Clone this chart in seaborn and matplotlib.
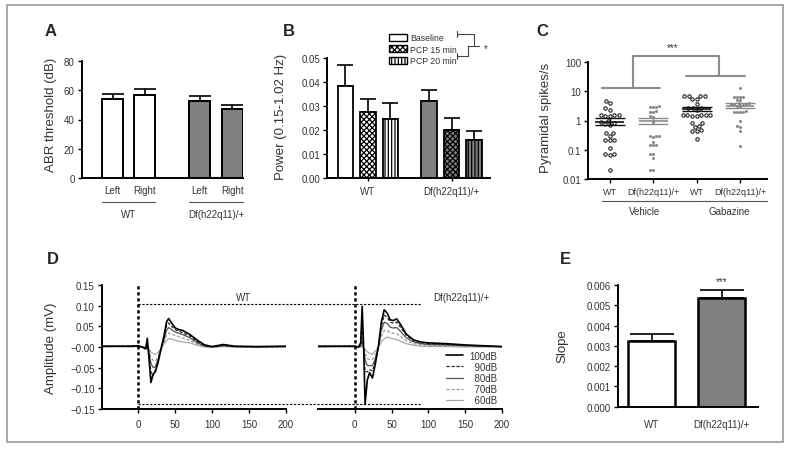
import numpy as np
import pandas as pd
import matplotlib
matplotlib.use("Agg")
import matplotlib.pyplot as plt
import seaborn as sns
from matplotlib.patches import Patch, Rectangle
from matplotlib.lines import Line2D
from matplotlib.ticker import FixedLocator, FixedFormatter, NullLocator

# ---- A: ABR threshold (mean, sem)
abr_groups = ["WT", "Df(h22q11)/+"]
abr_sides = ["Left", "Right"]
abr_wt = [54.0, 57.0]
abr_wt_sem = [3.5, 4.0]
abr_df = [52.5, 47.0]
abr_df_sem = [3.5, 3.0]

# ---- B: power 0.15-1.02 Hz
pcp_groups = ["WT", "Df(h22q11)/+"]
pcp_conds = ["Baseline", "PCP 15 min", "PCP 20 min"]
pcp_wt = [0.0385, 0.0275, 0.0245]
pcp_wt_sem = [0.0085, 0.0055, 0.0068]
pcp_df = [0.032, 0.020, 0.016]
pcp_df_sem = [0.0048, 0.0052, 0.0037]

# ---- C: pyramidal spikes/s
spk_groups = ["WT veh", "Df veh", "WT gab", "Df gab"]
spk_labels = ["WT", "Df(h22q11)/+", "WT", "Df(h22q11)/+"]
spk_wt_veh = [4.7, 3.9, 2.6, 2.3, 1.6, 1.55, 1.45, 1.4, 1.5, 1.0, 0.9, 0.8, 0.75,
              0.72, 0.38, 0.36, 0.30, 0.22, 0.21, 0.22, 0.115, 0.07, 0.065, 0.07, 0.021]
spk_df_veh = [3.1, 3.0, 2.9, 2.8, 2.1, 2.0, 2.0, 1.4, 1.3, 0.87, 0.30, 0.29, 0.28,
              0.30, 0.18, 0.15, 0.14, 0.15, 0.071, 0.07, 0.051, 0.021, 0.021]
spk_wt_gab = [7.0, 6.8, 7.1, 6.9, 5.4, 5.3, 3.7, 2.6, 2.6, 2.7, 2.2, 1.6, 1.55,
              1.6, 1.58, 1.5, 1.38, 1.4, 0.8, 0.82, 0.63, 0.62, 0.45, 0.45, 0.46, 0.23]
spk_df_gab = [12.9, 6.5, 6.4, 6.6, 6.5, 5.0, 4.9, 3.9, 3.8, 4.0, 3.7, 3.6, 3.2,
              3.1, 3.3, 2.0, 2.0, 2.1, 1.9, 2.0, 1.0, 0.66, 0.59, 0.45, 0.13]
spk_mean = [0.92, 0.97, 2.45, 3.2]
spk_lo = [0.71, 0.75, 2.05, 2.7]
spk_hi = [1.2, 1.2, 3.0, 3.9]

# ---- D: ABR traces (ms, mV)
abr_levels = ["100dB", "90dB", "80dB", "70dB", "60dB"]
t_wt = [-50, -10, 0, 5, 10, 12, 14, 17, 20, 23, 27, 31, 35, 38, 41, 45, 50, 55, 60,
        65, 70, 80, 90, 100, 115, 130, 160, 200]
wt_100 = [.002, .002, .003, .000, -.005, .021, -.020, -.086, -.065, -.060, -.035, -.002, .030, .060,
          .069, .058, .046, .042, .040, .035, .030, .016, .005, .001, .006, .002, .001, .002]
wt_90 = [.001, .002, .002, .000, -.003, .012, -.015, -.060, -.070, -.055, -.030, -.002, .025, .050,
         .058, .050, .042, .038, .034, .030, .026, .013, .003, .001, .004, .001, .001, .001]
wt_80 = [.002, .001, .002, .000, -.002, .006, -.010, -.040, -.050, -.048, -.028, -.002, .020, .040,
         .047, .042, .036, .033, .030, .026, .022, .010, .002, .000, .003, .001, .000, .001]
wt_70 = [.001, .001, .001, .000, -.001, .003, -.006, -.025, -.032, -.034, -.022, -.002, .014, .028,
         .034, .031, .028, .025, .022, .019, .016, .007, .001, .000, .002, .000, .000, .001]
wt_60 = [.000, .001, .001, .000, .000, .001, -.003, -.012, -.016, -.018, -.013, -.002, .008, .016,
         .020, .019, .016, .014, .012, .011, .010, .004, .000, -.001, .001, .000, .000, .000]
t_df = [-50, -10, 0, 5, 8, 10, 12, 14, 17, 20, 24, 28, 32, 36, 40, 44, 48, 52, 57, 62,
        70, 80, 90, 100, 125, 150, 175, 200]
df_100 = [.002, .002, .002, .000, .010, .098, .000, -.138, -.080, -.062, -.075, -.040, .000, .060,
          .090, .082, .066, .064, .068, .055, .031, .017, .012, .010, .008, .005, .003, .001]
df_90 = [.001, .002, .002, .000, .004, .040, -.005, -.060, -.060, -.055, -.058, -.035, .000, .050,
         .077, .072, .060, .058, .060, .048, .028, .015, .010, .008, .006, .004, .002, .001]
df_80 = [.001, .001, .001, .000, .002, .015, -.005, -.030, -.045, -.045, -.045, -.028, .000, .040,
         .060, .057, .048, .046, .047, .038, .022, .012, .008, .006, .005, .003, .002, .001]
df_70 = [.001, .001, .001, .000, .001, .006, -.003, -.015, -.028, -.030, -.030, -.020, .000, .025,
         .040, .040, .035, .033, .032, .026, .015, .008, .005, .004, .003, .002, .001, .000]
df_60 = [.000, .001, .000, .000, .000, .002, -.001, -.006, -.012, -.015, -.018, -.010, .000, .012,
         .020, .024, .022, .020, .018, .014, .008, .004, .002, .001, .001, .000, .000, .000]

# ---- E: slope
slope_groups = ["WT", "Df(h22q11)/+"]
slope_mean = [0.00326, 0.00534]
slope_sem = [0.00030, 0.00041]

sns.set_style("ticks")
plt.rcParams["font.family"] = ["Liberation Sans", "DejaVu Sans"]
plt.rcParams["hatch.linewidth"] = 0.9
TXT = "#333333"
GREY = "#808080"

W, H = 791, 452
fig = plt.figure(figsize=(W / 100, H / 100), dpi=100)


def fx(px):
    return px / W


def fy(py):
    return 1 - py / H


def add_ax(l, t, r, b):
    return fig.add_axes([l / W, 1 - b / H, (r - l) / W, (b - t) / H])


def style_ax(ax, lw=1.4):
    sns.despine(ax=ax)
    for s in ["left", "bottom"]:
        ax.spines[s].set_linewidth(lw)
        ax.spines[s].set_color("black")
    ax.tick_params(direction="out", length=3, width=1, color="black",
                   labelsize=7, labelcolor=TXT, pad=2)


def up_err(ax, patches, errs, capsize):
    for p, e in zip(patches, errs):
        x = p.get_x() + p.get_width() / 2
        ax.errorbar([x], [p.get_height()], yerr=[[0], [e]], fmt="none", ecolor="black",
                    elinewidth=1.2, capsize=capsize, capthick=1.2, zorder=1)


# ================= A
axA = add_ax(81.7, 62, 243, 179)
dfA = pd.DataFrame({"group": np.repeat(abr_groups, 2), "side": abr_sides * 2,
                    "thr": abr_wt + abr_df})
sns.barplot(data=dfA, x="group", y="thr", hue="side", order=abr_groups, hue_order=abr_sides,
            width=0.742, gap=0.353, errorbar=None, edgecolor="black", linewidth=1.4,
            legend=False, ax=axA, zorder=2)
semA = {("WT", "Left"): abr_wt_sem[0], ("WT", "Right"): abr_wt_sem[1],
        ("Df(h22q11)/+", "Left"): abr_df_sem[0], ("Df(h22q11)/+", "Right"): abr_df_sem[1]}
barsA, errsA = [], []
for p in axA.patches:
    c = p.get_x() + p.get_width() / 2
    g = abr_groups[int(round(c))]
    s = "Left" if c < round(c) else "Right"
    p.set_facecolor("white" if g == "WT" else GREY)
    barsA.append(p)
    errsA.append(semA[(g, s)])
up_err(axA, barsA, errsA, 8)
axA.set_ylim(0, 80)
axA.set_yticks([0, 20, 40, 60, 80])
axA.set_xlim(-0.54, 1.31)
centers = sorted(p.get_x() + p.get_width() / 2 for p in barsA)
axA.set_xticks(centers, ["Left", "Right", "Left", "Right"])
style_ax(axA)
axA.tick_params(axis="x", length=0, pad=5)
axA.set_xlabel("")
axA.set_ylabel("ABR threshold (dB)", fontsize=9.5, color=TXT)
axA.yaxis.set_label_coords(-0.153, 0.547)
for gi, g in enumerate(abr_groups):
    ps = sorted([p for p in barsA if int(round(p.get_x() + p.get_width() / 2)) == gi],
                key=lambda p: p.get_x())
    x0, x1 = ps[0].get_x(), ps[-1].get_x() + ps[-1].get_width()
    axA.plot([x0, x1], [-0.205, -0.205], color="#555555", lw=0.8,
             transform=axA.get_xaxis_transform(), clip_on=False)
    axA.text(gi, -0.31, g, ha="center", va="center", fontsize=7, color=TXT,
             transform=axA.get_xaxis_transform())

# ================= B
axB = add_ax(327, 59, 490, 179)
dfB = pd.DataFrame({"group": np.repeat(pcp_groups, 3), "cond": pcp_conds * 2,
                    "power": pcp_wt + pcp_df})
sns.barplot(data=dfB, x="group", y="power", hue="cond", order=pcp_groups, hue_order=pcp_conds,
            width=0.808, gap=0.31, errorbar=None, edgecolor="black", linewidth=1.3,
            legend=False, ax=axB, zorder=2)
hatches = ["", "xxxxxx", "|||||"]
semB = {}
for i, c in enumerate(pcp_conds):
    semB[("WT", c)] = pcp_wt_sem[i]
    semB[("Df(h22q11)/+", c)] = pcp_df_sem[i]
barsB, errsB = [], []
for p in axB.patches:
    c = p.get_x() + p.get_width() / 2
    gi = int(round(c))
    hi = int(round((c - gi) / (0.808 / 3))) + 1
    p.set_facecolor("white" if gi == 0 else GREY)
    p.set_hatch(hatches[hi])
    barsB.append(p)
    errsB.append(semB[(pcp_groups[gi], pcp_conds[hi])])
up_err(axB, barsB, errsB, 6)
axB.set_ylim(0, 0.05)
axB.set_yticks([0, 0.01, 0.02, 0.03, 0.04, 0.05])
axB.yaxis.set_major_formatter(FixedFormatter(["0.00", "0.01", "0.02", "0.03", "0.04", "0.05"]))
axB.set_xlim(-0.49, 1.46)
style_ax(axB)
axB.tick_params(axis="x", length=2, pad=4)
axB.set_xlabel("")
axB.set_ylabel("Power (0.15-1.02 Hz)", fontsize=9.5, color=TXT)
axB.yaxis.set_label_coords(-0.245, 0.517)
legB = [Patch(facecolor="white", edgecolor="black", hatch=h, lw=1) for h in hatches]
fig.legend(legB, pcp_conds, loc="upper left", bbox_to_anchor=(fx(385), fy(30)),
           frameon=False, fontsize=6.3, handlelength=2.05, handleheight=0.9,
           labelspacing=0.28, borderpad=0, handletextpad=0.35, labelcolor=TXT)
for pts in ([(457, 35), (474, 35), (474, 46)], [(457, 57), (468, 57), (468, 47)],
            [(468, 47), (479, 47)], [(457, 32), (457, 38)], [(457, 54), (457, 60)]):
    fig.add_artist(Line2D([fx(p[0]) for p in pts], [fy(p[1]) for p in pts],
                          color="#444444", lw=0.8))
fig.text(fx(486), fy(49), "*", fontsize=7, color=TXT, ha="center", va="center")

# ================= C
axC = add_ax(588, 63, 767, 180)
dfC = pd.DataFrame({"group": ["WT veh"] * len(spk_wt_veh) + ["Df veh"] * len(spk_df_veh)
                    + ["WT gab"] * len(spk_wt_gab) + ["Df gab"] * len(spk_df_gab),
                    "spikes": spk_wt_veh + spk_df_veh + spk_wt_gab + spk_df_gab})
wtC = dfC[dfC["group"].str.startswith("WT")]
dfCd = dfC[dfC["group"].str.startswith("Df")]
sns.swarmplot(data=wtC, x="group", y="spikes", order=spk_groups, color="white",
              edgecolor="#222222", linewidth=0.8, size=2.4, log_scale=True, ax=axC, zorder=3)
sns.swarmplot(data=dfCd, x="group", y="spikes", order=spk_groups, color="#8a8a8a",
              linewidth=0, size=2.2, log_scale=True, ax=axC, zorder=3)
for i in range(4):
    col = "#111111" if i % 2 == 0 else "#8a8a8a"
    axC.hlines(spk_mean[i], i - 0.33, i + 0.33, color=col, lw=1.2, zorder=4)
    axC.errorbar([i], [spk_mean[i]], yerr=[[spk_mean[i] - spk_lo[i]], [spk_hi[i] - spk_mean[i]]],
                 fmt="none", ecolor=col, elinewidth=1.0, capsize=11, capthick=1.0, zorder=4)
axC.set_ylim(0.01, 100)
axC.yaxis.set_major_locator(FixedLocator([0.01, 0.1, 1, 10, 100]))
axC.yaxis.set_major_formatter(FixedFormatter(["0.01", "0.1", "1", "10", "100"]))
axC.yaxis.set_minor_locator(NullLocator())
axC.set_xlim(-0.5, 3.62)
axC.set_xticks(range(4), spk_labels)
style_ax(axC)
axC.tick_params(axis="x", length=3, pad=3, labelsize=6.5)
axC.set_xlabel("")
axC.set_ylabel("Pyramidal spikes/s", fontsize=9.5, color=TXT)
axC.yaxis.set_label_coords(-0.20, 0.534)
xt = axC.get_xaxis_transform()
for x0, x1, xm, lab in ((-0.18, 1.78, 0.8, "Vehicle"), (1.8, 3.62, 2.75, "Gabazine")):
    axC.plot([x0, x1], [-0.188, -0.188], color="#555555", lw=0.8, transform=xt, clip_on=False)
    axC.text(xm, -0.27, lab, ha="center", va="center", fontsize=7, color=TXT, transform=xt)
BR = "#8c8c8c"
axC.plot([-0.18, 1.15], [13, 13], color=BR, lw=1.5, clip_on=False)
axC.plot([1.75, 3.12], [34, 34], color=BR, lw=1.5, clip_on=False)
axC.plot([0.53, 0.53, 2.52, 2.52], [13, 160, 160, 34], color=BR, lw=1.5, clip_on=False)
axC.text(1.45, 330, "***", ha="center", va="center", fontsize=7, color=TXT)

# ================= D
axD1 = add_ax(101.5, 286, 286, 410)
axD2 = add_ax(318, 286, 502, 410)
colors = ["#000000", "#222222", "#555555", "#9a9a9a", "#a8a8a8"]
styles = ["-", (0, (2.5, 1.5)), "-", (0, (2.5, 1.5)), "-"]
widths = [1.2, 0.9, 0.9, 0.9, 0.9]
wt_tr = [wt_100, wt_90, wt_80, wt_70, wt_60]
df_tr = [df_100, df_90, df_80, df_70, df_60]
for i in range(4, -1, -1):
    sns.lineplot(x=t_wt, y=wt_tr[i], ax=axD1, color=colors[i], lw=widths[i],
                 linestyle=styles[i], errorbar=None)
    sns.lineplot(x=t_df, y=df_tr[i], ax=axD2, color=colors[i], lw=widths[i],
                 linestyle=styles[i], errorbar=None)
for ax in (axD1, axD2):
    ax.set_xlim(-50, 200)
    ax.set_ylim(-0.15, 0.15)
    ax.set_xticks([0, 50, 100, 150, 200])
    style_ax(ax)
    ax.tick_params(axis="x", pad=4)
    ax.axvline(0, color="black", lw=1.8, ls=(0, (1.3, 1.1)), zorder=5)
axD1.set_yticks([-0.15, -0.10, -0.05, 0, 0.05, 0.10, 0.15])
axD1.yaxis.set_major_formatter(FixedFormatter(
    ["\u22120.15", "\u22120.10", "\u22120.05", "\u22120.00", "0.05", "0.10", "0.15"]))
axD1.set_ylabel("Amplitude (mV)", fontsize=9.5, color=TXT)
axD1.yaxis.set_label_coords(-0.241, 0.5)
axD2.spines["left"].set_visible(False)
axD2.tick_params(axis="y", left=False, labelleft=False)
inv = fig.transFigure.inverted()
for yv in (0.105, -0.138):
    p0 = inv.transform(axD1.transData.transform((0, yv)))
    p1 = inv.transform(axD2.transData.transform((90, yv)))
    fig.add_artist(Line2D([p0[0], p1[0]], [p0[1], p1[1]], color="black", lw=0.8,
                          ls=(0, (2, 1.5))))
axD1.text(142, 0.122, "WT", ha="center", va="center", fontsize=7, color=TXT)
axD2.text(145, 0.122, "Df(h22q11)/+", ha="center", va="center", fontsize=7, color=TXT)
legD = [Line2D([], [], color=colors[i], lw=widths[i], ls=styles[i]) for i in range(5)]
labD = ["100dB", "  90dB", "  80dB", "  70dB", "  60dB"]
axD2.legend(legD, labD, loc="lower right", bbox_to_anchor=(1.0, -0.01), frameon=False,
            fontsize=7, handlelength=1.8, labelspacing=0.12, borderpad=0,
            handletextpad=0.6, labelcolor=TXT)

# ================= E
axE = add_ax(617.7, 286, 758, 407.7)
dfE = pd.DataFrame({"group": slope_groups, "slope": slope_mean})
sns.barplot(data=dfE, x="group", y="slope", hue="group", palette=["white", GREY],
            width=0.667, errorbar=None, edgecolor="black", linewidth=1.8, legend=False,
            ax=axE, zorder=2)
barsE = sorted(axE.patches, key=lambda p: p.get_x())
up_err(axE, barsE, slope_sem, 16)
axE.set_ylim(0, 0.006)
axE.set_yticks([0, 0.001, 0.002, 0.003, 0.004, 0.005, 0.006])
axE.yaxis.set_major_formatter(FixedFormatter(
    ["0.000", "0.001", "0.002", "0.003", "0.004", "0.005", "0.006"]))
axE.set_xlim(-0.486, 1.52)
style_ax(axE)
axE.tick_params(axis="x", length=0, pad=9)
axE.set_xlabel("")
axE.set_ylabel("Slope", fontsize=9.5, color=TXT)
axE.yaxis.set_label_coords(-0.354, 0.507)
axE.text(1, 0.00596, "***", ha="center", va="bottom", fontsize=7, color=TXT)

# panel letters and frame
for lab, px, py in (("A", 51, 31), ("B", 289, 31), ("C", 542, 31), ("D", 53, 260), ("E", 565, 260)):
    fig.text(fx(px), fy(py), lab, fontsize=12, fontweight="bold", ha="center", va="center")
fig.add_artist(Rectangle((fx(7), fy(443)), fx(776), (443 - 6) / H, fill=False,
                         edgecolor="#9a9a9a", lw=1.2, transform=fig.transFigure))

fig.savefig("out.png", dpi=100)
